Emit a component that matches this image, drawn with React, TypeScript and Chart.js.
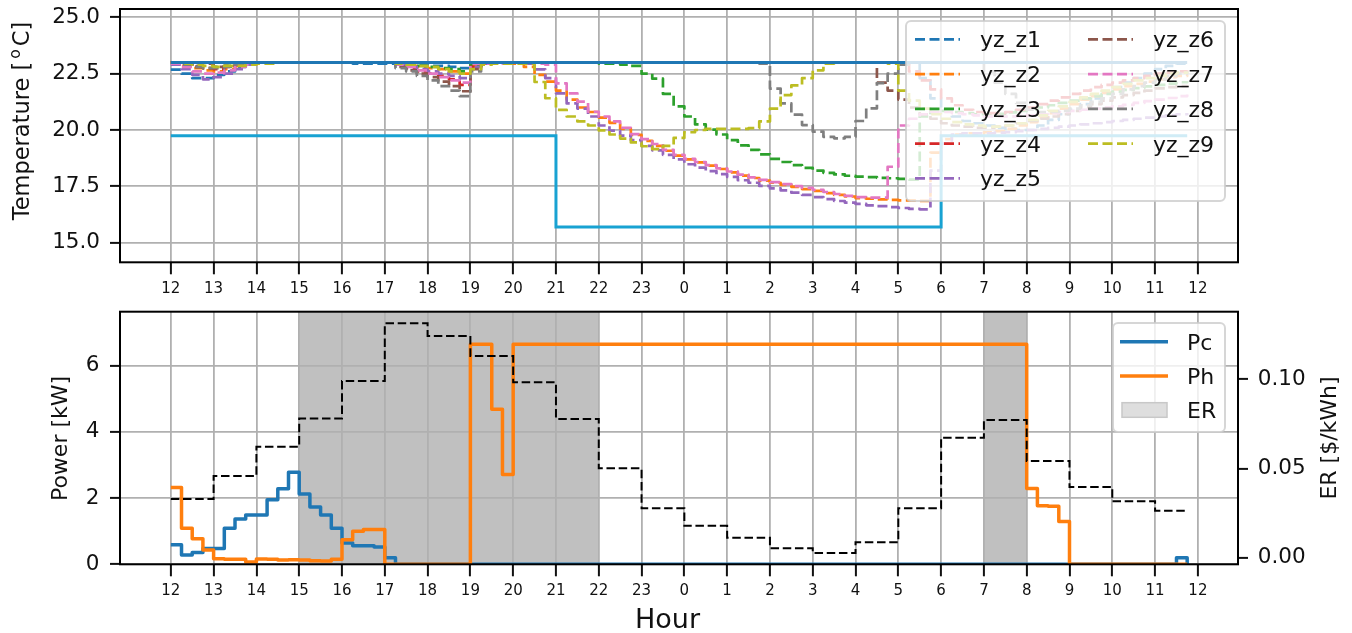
import React, { useEffect, useRef } from 'react';
import { Chart, registerables } from 'chart.js';

Chart.register(...registerables);

const FONT = "'DejaVu Sans', sans-serif";
const TEXT = '#111111';
const GRID = '#b0b0b0';
Chart.defaults.font.family = FONT;

// Time axis: hours after 12:00, one control step every 15 minutes
const STEP_HOURS = 0.25;
const X_MIN = -1.1875;
const X_MAX = 24.9375;
const HOUR_TICKS = [0, 1, 2, 3, 4, 5, 6, 7, 8, 9, 10, 11, 12, 13, 14, 15, 16, 17, 18, 19, 20, 21, 22, 23, 24];
const HOUR_LABELS = ['12', '13', '14', '15', '16', '17', '18', '19', '20', '21', '22', '23', '0', '1', '2', '3', '4', '5', '6', '7', '8', '9', '10', '11', '12'];

// Axis ranges and tick values
const TEMP_MIN = 14.13;
const TEMP_MAX = 25.37;
const TEMP_TICKS = [15, 17.5, 20, 22.5, 25];
const POWER_MIN = 0;
const POWER_MAX = 7.63;
const POWER_TICKS = [0, 2, 4, 6];
const RATE_MIN = -0.0037;
const RATE_MAX = 0.1379;
const RATE_TICKS = [0, 0.05, 0.1];

// Comfort band [°C], one value per hour (12:00 ... 11:00)
const UPPER_BOUND = [23, 23, 23, 23, 23, 23, 23, 23, 23, 23, 23, 23, 23, 23, 23, 23, 23, 23, 23, 23, 23, 23, 23, 23];
const LOWER_BOUND = [19.75, 19.75, 19.75, 19.75, 19.75, 19.75, 19.75, 19.75, 19.75, 15.7, 15.7, 15.7, 15.7, 15.7, 15.7, 15.7, 15.7, 15.7, 19.75, 19.75, 19.75, 19.75, 19.75, 19.75];

// Electricity rate [$/kWh], one value per hour
const ER_RATE = [0.0329, 0.0458, 0.0622, 0.0781, 0.099, 0.1314, 0.1243, 0.1131, 0.0983, 0.0778, 0.0501, 0.0277, 0.0179, 0.0112, 0.0053, 0.0026, 0.0086, 0.0277, 0.0673, 0.0772, 0.0542, 0.0396, 0.0316, 0.0263];

// Peak-rate windows, hours after 12:00
const ER_WINDOWS = [[3, 10], [19, 20]];

// Zone temperatures [°C], 15-minute steps from 12:00
const YZ_Z1 = [
  22.68, 22.5, 22.3, 22.3, 22.45, 22.6, 22.8, 22.95, 23, 23, 23, 23, 23, 23, 23, 23,
  23, 22.95, 22.95, 22.95, 22.95, 22.95, 22.9, 22.9, 22.85, 22.85, 22.8, 22.75, 22.85, 22.95, 23, 23,
  23, 23, 23, 23, 23, 23, 23, 23, 23, 23, 23, 23, 23, 23, 23, 23,
  23, 23, 23, 23, 23, 23, 23, 23, 23, 23, 23, 23, 23, 23, 23, 23,
  23, 23, 23, 23, 23, 23, 22.3, 21.4, 20.9, 20.6, 20.4, 20.3, 20.2, 20.1, 20.05, 20.0,
  20.0, 20.2, 20.45, 20.7, 20.9, 21.15, 21.4, 21.65, 21.9, 22.1, 22.3, 22.5, 22.7, 22.85, 22.95, 23,
];
const YZ_Z2 = [
  23, 22.85, 22.75, 22.65, 22.6, 22.7, 22.85, 22.95, 23, 23, 23, 23, 23, 23, 23, 23,
  23, 23, 23, 23, 23, 22.95, 22.85, 22.8, 22.75, 22.7, 22.6, 22.5, 22.85, 22.95, 23, 23,
  22.95, 22.8, 22.45, 22.15, 21.75, 21.35, 21.0, 20.8, 20.55, 20.32, 20.05, 19.78, 19.52, 19.3, 19.08, 18.86,
  18.7, 18.56, 18.42, 18.27, 18.12, 17.98, 17.87, 17.75, 17.66, 17.57, 17.48, 17.38, 17.3, 17.2, 17.12, 17.05,
  16.98, 16.95, 16.92, 16.9, 16.88, 16.88, 16.86, 19.0, 19.6, 19.8, 19.85, 19.85, 19.9, 19.95, 20.05, 20.2,
  20.35, 20.55, 20.75, 20.95, 21.15, 21.35, 21.5, 21.65, 21.8, 21.95, 22.05, 22.15, 22.25, 22.35, 22.4, 22.45,
];
const YZ_Z3 = [
  23, 22.9, 22.8, 22.75, 22.8, 22.85, 22.9, 22.95, 23, 23, 23, 23, 23, 23, 23, 23,
  23, 23, 23, 23, 23, 22.95, 22.9, 22.85, 22.8, 22.75, 22.7, 22.6, 22.9, 23, 23, 23,
  23, 23, 23, 23, 23, 23, 23, 23, 22.95, 22.95, 22.9, 22.85, 22.5, 22.28, 21.6, 21.05,
  20.6, 20.25, 20.02, 19.8, 19.55, 19.32, 19.12, 18.92, 18.72, 18.58, 18.44, 18.32, 18.2, 18.1, 18.03, 17.97,
  17.93, 17.91, 17.88, 17.86, 17.83, 17.8, 20.6, 20.8, 20.85, 20.8, 20.75, 20.7, 20.7, 20.72, 20.78, 20.85,
  20.9, 21.0, 21.1, 21.2, 21.3, 21.4, 21.5, 21.6, 21.7, 21.78, 21.86, 21.94, 22.0, 22.06, 22.12, 22.18,
];
const YZ_Z4 = [
  23, 22.9, 22.8, 22.75, 22.7, 22.8, 22.9, 23, 23, 23, 23, 23, 23, 23, 23, 23,
  23, 23, 23, 23, 23, 22.85, 22.75, 22.6, 22.5, 22.4, 22.25, 22.0, 22.8, 23, 23, 23,
  23, 23, 23, 23, 23, 23, 23, 23, 23, 23, 23, 23, 23, 23, 23, 23,
  23, 23, 23, 23, 23, 23, 23, 23, 23, 23, 23, 23, 23, 23, 23, 23,
  23, 23, 23, 23, 23, 22.6, 22.2, 21.8, 21.4, 21.1, 20.9, 20.8, 20.75, 20.75, 20.8, 20.9,
  21.0, 21.15, 21.3, 21.45, 21.6, 21.75, 21.9, 22.0, 22.1, 22.2, 22.3, 22.4, 22.5, 22.55, 22.6, 22.65,
];
const YZ_Z5 = [
  22.9, 22.7, 22.45, 22.25, 22.35, 22.5, 22.7, 22.9, 23, 23, 23, 23, 23, 23, 23, 23,
  23, 23, 23, 23, 23, 22.9, 22.8, 22.7, 22.6, 22.5, 22.4, 22.3, 22.8, 22.95, 23, 23,
  23, 22.95, 22.69, 22.3, 21.63, 21.18, 20.95, 20.6, 20.2, 19.97, 19.75, 19.55, 19.3, 19.1, 18.9, 18.7,
  18.48, 18.33, 18.18, 18.04, 17.92, 17.77, 17.66, 17.52, 17.41, 17.32, 17.22, 17.12, 17.02, 16.93, 16.85, 16.78,
  16.72, 16.66, 16.62, 16.58, 16.54, 16.5, 16.48, 18.2, 19.4, 19.8, 19.85, 19.85, 19.85, 19.88, 19.9, 19.95,
  20.0, 20.05, 20.1, 20.15, 20.2, 20.25, 20.3, 20.35, 20.4, 20.45, 20.5, 20.55, 20.6, 20.65, 20.7, 20.75,
];
const YZ_Z6 = [
  23, 22.9, 22.85, 22.95, 22.8, 22.85, 22.9, 23, 23, 23, 23, 23, 23, 23, 23, 23,
  23, 23, 23, 23, 23, 22.8, 22.65, 22.5, 22.35, 22.15, 21.95, 21.72, 22.7, 23, 23, 23,
  23, 23, 23, 23, 23, 23, 23, 23, 23, 23, 23, 23, 23, 23, 23, 23,
  23, 23, 23, 23, 23, 23, 23, 23, 23, 23, 23, 23, 23, 23, 23, 23,
  23, 23, 22.1, 21.75, 21.35, 21.0, 20.7, 20.5, 20.3, 20.2, 20.15, 20.1, 20.1, 20.15, 20.2, 20.3,
  20.4, 20.5, 20.6, 20.7, 20.85, 21.0, 21.15, 21.3, 21.45, 21.55, 21.65, 21.75, 21.85, 21.9, 21.95, 22.0,
];
const YZ_Z7 = [
  22.95, 22.8, 22.6, 22.5, 22.55, 22.65, 22.8, 22.9, 23, 23, 23, 23, 23, 23, 23, 23,
  23, 23, 23, 23, 23, 22.9, 22.8, 22.65, 22.5, 22.35, 22.2, 22.1, 22.95, 22.95, 23, 22.95,
  23, 23, 22.95, 22.9, 22.07, 21.63, 21.26, 20.81, 20.6, 20.38, 20.1, 19.82, 19.6, 19.38, 19.12, 18.9,
  18.72, 18.58, 18.44, 18.3, 18.16, 18.02, 17.9, 17.79, 17.69, 17.6, 17.51, 17.43, 17.34, 17.25, 17.16, 17.08,
  17.02, 17.0, 17.0, 18.37, 20.2, 20.5, 20.7, 20.8, 20.8, 20.75, 20.7, 20.65, 20.6, 20.6, 20.6, 20.62,
  20.65, 20.7, 20.75, 20.8, 20.85, 20.9, 20.95, 21.0, 21.05, 21.12, 21.2, 21.28, 21.35, 21.42, 21.5, 21.58,
];
const YZ_Z8 = [
  23, 22.9, 22.8, 22.75, 22.75, 22.8, 22.9, 23, 23, 23, 23, 23, 23, 23, 23, 23,
  23, 23, 23, 23, 23, 22.75, 22.6, 22.4, 22.2, 21.95, 21.75, 21.5, 22.6, 23, 23, 23,
  23, 23, 23, 23, 23, 23, 23, 23, 23, 23, 23, 23, 23, 23, 23, 23,
  23, 23, 23, 23, 23, 23, 23, 22.95, 21.84, 21.18, 20.68, 20.22, 19.93, 19.7, 19.63, 19.7,
  20.4, 20.96, 22.08, 22.5, 22.9, 23, 23, 23, 23, 23, 23, 23, 22.6, 22.1, 21.6, 21.2,
  20.9, 20.8, 20.8, 20.85, 20.95, 21.1, 21.25, 21.4, 21.6, 21.8, 21.95, 22.1, 22.25, 22.4, 22.5, 22.6,
];
const YZ_Z9 = [
  23, 22.95, 22.9, 22.85, 22.8, 22.85, 22.85, 22.9, 22.95, 22.95, 23, 23, 23, 23, 23, 23,
  23, 23, 23, 23, 23, 22.95, 22.9, 22.85, 22.8, 22.7, 22.6, 22.5, 22.7, 22.9, 22.95, 22.95,
  22.95, 22.95, 22.13, 21.41, 20.89, 20.6, 20.38, 20.2, 19.98, 19.8, 19.62, 19.45, 19.28, 19.15, 19.3, 19.65,
  19.9, 20.0, 20.05, 20.05, 20.05, 20.05, 20.08, 20.38, 20.95, 21.55, 21.98, 22.3, 22.65, 22.95, 23, 23,
  23, 23, 23, 22.95, 21.75, 21.3, 20.95, 20.7, 20.5, 20.35, 20.25, 20.2, 20.15, 20.15, 20.2, 20.3,
  20.45, 20.65, 20.85, 21.05, 21.25, 21.45, 21.6, 21.75, 21.9, 22.05, 22.2, 22.3, 22.4, 22.5, 22.55, 22.6,
];

const ZONE_NAMES = ['yz_z1', 'yz_z2', 'yz_z3', 'yz_z4', 'yz_z5', 'yz_z6', 'yz_z7', 'yz_z8', 'yz_z9'];
const ZONE_SERIES = [YZ_Z1, YZ_Z2, YZ_Z3, YZ_Z4, YZ_Z5, YZ_Z6, YZ_Z7, YZ_Z8, YZ_Z9];
const ZONE_COLORS = ['#1f77b4', '#ff7f0e', '#2ca02c', '#d62728', '#9467bd', '#8c564b', '#e377c2', '#7f7f7f', '#bcbd22'];

// Cooling and heating power [kW], 15-minute steps from 12:00
const PC = [
  0.59, 0.28, 0.36, 0.48, 0.48, 1.09, 1.37, 1.49, 1.49, 1.95, 2.28, 2.78, 2.12, 1.73, 1.49, 1.09,
  0.64, 0.56, 0.56, 0.52, 0.2, 0, 0, 0, 0, 0, 0, 0, 0, 0, 0, 0,
  0, 0, 0, 0, 0, 0, 0, 0, 0, 0, 0, 0, 0, 0, 0, 0,
  0, 0, 0, 0, 0, 0, 0, 0, 0, 0, 0, 0, 0, 0, 0, 0,
  0, 0, 0, 0, 0, 0, 0, 0, 0, 0, 0, 0, 0, 0, 0, 0,
  0, 0, 0, 0, 0, 0, 0, 0, 0, 0, 0, 0, 0, 0, 0.2, 0,
];
const PH = [
  2.32, 1.09, 0.77, 0.43, 0.17, 0.15, 0.15, 0.07, 0.16, 0.15, 0.13, 0.14, 0.13, 0.11, 0.1, 0.15,
  0.74, 1.0, 1.05, 1.05, 0, 0, 0, 0, 0, 0, 0, 0, 6.65, 6.65, 4.68, 2.71,
  6.65, 6.65, 6.65, 6.65, 6.65, 6.65, 6.65, 6.65, 6.65, 6.65, 6.65, 6.65, 6.65, 6.65, 6.65, 6.65,
  6.65, 6.65, 6.65, 6.65, 6.65, 6.65, 6.65, 6.65, 6.65, 6.65, 6.65, 6.65, 6.65, 6.65, 6.65, 6.65,
  6.65, 6.65, 6.65, 6.65, 6.65, 6.65, 6.65, 6.65, 6.65, 6.65, 6.65, 6.65, 6.65, 6.65, 6.65, 6.65,
  2.29, 1.77, 1.75, 1.29, 0, 0, 0, 0, 0, 0, 0, 0, 0, 0, 0, 0,
];

const expandHourly = (hourly: number[]) => hourly.flatMap((v) => [v, v, v, v]);
const toPoints = (vals: number[]) => vals.map((y, i) => ({ x: i * STEP_HOURS, y }));

const fixedTicks = (values: number[]) => (scale: any) => {
  scale.ticks = values.map((value) => ({ value }));
};
const fixedSize = (prop: 'width' | 'height', size: number) => (scale: any) => {
  scale[prop] = size;
  scale.paddingLeft = 0;
  scale.paddingRight = 0;
  scale.paddingTop = 0;
  scale.paddingBottom = 0;
};

const hourAxis = (height: number) => ({
  type: 'linear',
  bounds: 'data',
  min: X_MIN,
  max: X_MAX,
  afterBuildTicks: fixedTicks(HOUR_TICKS),
  afterFit: fixedSize('height', height),
  border: { display: false },
  grid: { color: GRID, lineWidth: 1.8, tickColor: TEXT, tickLength: 12, tickWidth: 2 },
  ticks: {
    autoSkip: false,
    maxRotation: 0,
    minRotation: 0,
    padding: 6,
    color: TEXT,
    font: { family: FONT, size: 15 },
    callback: (_v: number, i: number) => HOUR_LABELS[i],
  },
});

const valueAxis = (min: number, max: number, ticks: number[], width: number, fmt: (v: number) => string, position: string, onArea: boolean, padding: number) => ({
  type: 'linear',
  axis: 'y',
  position,
  bounds: 'data',
  min,
  max,
  afterBuildTicks: fixedTicks(ticks),
  afterFit: fixedSize('width', width),
  border: { display: false },
  grid: { color: GRID, lineWidth: 1.8, tickColor: TEXT, tickLength: 10, tickWidth: 2, drawOnChartArea: onArea },
  ticks: { padding, color: TEXT, font: { family: FONT, size: 21.5 }, callback: (v: number) => fmt(Number(v)) },
});

function drawFrame(chart: any) {
  const { ctx, chartArea: a } = chart;
  ctx.save();
  ctx.strokeStyle = '#000';
  ctx.lineWidth = 2;
  ctx.strokeRect(a.left, a.top, a.right - a.left, a.bottom - a.top);
  ctx.restore();
}

// Rotated axis title made of [text, fontSize, rise] pieces, centred at (cx, cy)
function drawVerticalTitle(ctx: CanvasRenderingContext2D, parts: [string, number, number][], cx: number, cy: number, gap = 0) {
  ctx.save();
  ctx.translate(cx, cy);
  ctx.rotate(-Math.PI / 2);
  ctx.fillStyle = TEXT;
  ctx.textBaseline = 'alphabetic';
  ctx.textAlign = 'left';
  const widths = parts.map(([t, s]) => {
    ctx.font = `${s}px ${FONT}`;
    return ctx.measureText(t).width;
  });
  const total = widths.reduce((a, b) => a + b, 0) + gap * (parts.length - 1);
  let x = -total / 2;
  parts.forEach(([t, s, rise], k) => {
    ctx.font = `${s}px ${FONT}`;
    ctx.fillText(t, x, 6 - rise);
    x += widths[k] + gap;
  });
  ctx.restore();
}

type LegendEntry = {
  label: string;
  color: string;
  kind: 'line' | 'patch';
  dash?: number[];
  width?: number;
  edge?: string;
  x: number;
  y: number;
  len: number;
  textX: number;
};

function drawLegend(ctx: CanvasRenderingContext2D, box: { x: number; y: number; w: number; h: number }, entries: LegendEntry[]) {
  ctx.save();
  const r = 5;
  ctx.beginPath();
  ctx.moveTo(box.x + r, box.y);
  ctx.arcTo(box.x + box.w, box.y, box.x + box.w, box.y + box.h, r);
  ctx.arcTo(box.x + box.w, box.y + box.h, box.x, box.y + box.h, r);
  ctx.arcTo(box.x, box.y + box.h, box.x, box.y, r);
  ctx.arcTo(box.x, box.y, box.x + box.w, box.y, r);
  ctx.closePath();
  ctx.fillStyle = 'rgba(255,255,255,0.8)';
  ctx.fill();
  ctx.strokeStyle = 'rgba(204,204,204,0.8)';
  ctx.lineWidth = 2;
  ctx.stroke();
  for (const e of entries) {
    if (e.kind === 'line') {
      ctx.beginPath();
      ctx.setLineDash(e.dash || []);
      ctx.lineWidth = e.width || 2;
      ctx.strokeStyle = e.color;
      ctx.moveTo(e.x, e.y);
      ctx.lineTo(e.x + e.len, e.y);
      ctx.stroke();
      ctx.setLineDash([]);
    } else {
      ctx.fillStyle = e.color;
      ctx.fillRect(e.x, e.y - 7.3, e.len, 14.6);
      ctx.strokeStyle = e.edge || e.color;
      ctx.lineWidth = 1.5;
      ctx.strokeRect(e.x, e.y - 7.3, e.len, 14.6);
    }
    ctx.fillStyle = TEXT;
    ctx.font = `22px ${FONT}`;
    ctx.textAlign = 'left';
    ctx.textBaseline = 'alphabetic';
    ctx.fillText(e.label, e.textX, e.y + 8);
  }
  ctx.restore();
}

const ZONE_DASH = [10, 4.5];
const ZONE_WIDTH = 2.7;

const temperaturePlugin = {
  id: 'temperatureDecor',
  afterDraw(chart: any) {
    const ctx = chart.ctx as CanvasRenderingContext2D;
    drawFrame(chart);
    drawVerticalTitle(ctx, [['Temperature [', 22.5, 0], ['o', 15.5, 9], ['C]', 22.5, 0]], 23, 121, 3);
    const entries: LegendEntry[] = ZONE_NAMES.map((name, k) => {
      const col = k < 5 ? 0 : 1;
      const row = k < 5 ? k : k - 5;
      const x = col === 0 ? 915 : 1088;
      return {
        label: name,
        color: ZONE_COLORS[k],
        kind: 'line',
        dash: ZONE_DASH,
        width: ZONE_WIDTH,
        x,
        y: 39.3 + row * 34.75,
        len: 45,
        textX: x + 65,
      };
    });
    drawLegend(ctx, { x: 906, y: 21, w: 319, h: 180 }, entries);
  },
};

const powerPlugin = {
  id: 'powerDecor',
  beforeDraw(chart: any) {
    const { ctx, chartArea: a, scales } = chart;
    ctx.save();
    ctx.fillStyle = '#c0c0c0';
    for (const [s, e] of ER_WINDOWS) {
      const x0 = scales.x.getPixelForValue(s);
      const x1 = scales.x.getPixelForValue(e);
      ctx.fillRect(x0, a.top, x1 - x0, a.bottom - a.top);
    }
    ctx.restore();
  },
  afterDraw(chart: any) {
    const ctx = chart.ctx as CanvasRenderingContext2D;
    drawFrame(chart);
    drawVerticalTitle(ctx, [['Power [kW]', 22, 0]], 61, 138.5);
    drawVerticalTitle(ctx, [['ER [$/kWh]', 22, 0]], 1330, 138);
    ctx.save();
    ctx.fillStyle = TEXT;
    ctx.font = `27px ${FONT}`;
    ctx.textAlign = 'center';
    ctx.textBaseline = 'alphabetic';
    ctx.fillText('Hour', 667.5, 328);
    ctx.restore();
    drawLegend(ctx, { x: 1113, y: 23, w: 112, h: 109 }, [
      { label: 'Pc', color: '#1f77b4', kind: 'line', width: 3.5, x: 1120, y: 41.7, len: 48, textX: 1187 },
      { label: 'Ph', color: '#ff7f0e', kind: 'line', width: 3.5, x: 1120, y: 76, len: 48, textX: 1187 },
      { label: 'ER', color: '#dedede', edge: '#c8c8c8', kind: 'patch', x: 1122, y: 110, len: 45, textX: 1187 },
    ]);
  },
};

function temperatureConfig(): any {
  const zones = ZONE_SERIES.map((vals, k) => ({
    label: ZONE_NAMES[k],
    data: toPoints(vals),
    borderColor: ZONE_COLORS[k],
    borderWidth: ZONE_WIDTH,
    borderDash: ZONE_DASH,
    borderJoinStyle: 'round',
    stepped: true,
    pointRadius: 0,
    fill: false,
    order: 10 - k,
  }));
  return {
    type: 'line',
    data: {
      datasets: [
        ...zones,
        { label: 'upper', data: toPoints(expandHourly(UPPER_BOUND)), borderColor: '#1f77b4', borderWidth: 3, stepped: true, pointRadius: 0, fill: false, order: 0 },
        { label: 'lower', data: toPoints(expandHourly(LOWER_BOUND)), borderColor: '#18a2d2', borderWidth: 3, stepped: true, pointRadius: 0, fill: false, order: 0 },
      ],
    },
    options: {
      responsive: false,
      animation: false,
      devicePixelRatio: 1,
      events: [],
      layout: { padding: { top: 9, right: 114, bottom: 0, left: 0 } },
      plugins: { legend: { display: false }, tooltip: { enabled: false } },
      scales: {
        x: hourAxis(37.7),
        y: valueAxis(TEMP_MIN, TEMP_MAX, TEMP_TICKS, 120, (v) => v.toFixed(1), 'left', true, 10),
      },
    },
    plugins: [temperaturePlugin],
  };
}

function powerConfig(): any {
  return {
    type: 'line',
    data: {
      datasets: [
        { label: 'ER', yAxisID: 'y1', data: toPoints(expandHourly(ER_RATE)), borderColor: '#000', borderWidth: 2, borderDash: [8.5, 3.7], stepped: true, pointRadius: 0, fill: false, order: 0 },
        { label: 'Ph', yAxisID: 'y', data: toPoints(PH), borderColor: '#ff7f0e', borderWidth: 3.5, borderJoinStyle: 'round', stepped: true, pointRadius: 0, fill: false, order: 1 },
        { label: 'Pc', yAxisID: 'y', data: toPoints(PC), borderColor: '#1f77b4', borderWidth: 3.5, borderJoinStyle: 'round', stepped: true, pointRadius: 0, fill: false, order: 2 },
      ],
    },
    options: {
      responsive: false,
      animation: false,
      devicePixelRatio: 1,
      events: [],
      layout: { padding: { top: 11.7, right: 0, bottom: 0, left: 0 } },
      plugins: { legend: { display: false }, tooltip: { enabled: false } },
      scales: {
        x: hourAxis(68.7),
        y: valueAxis(POWER_MIN, POWER_MAX, POWER_TICKS, 120, (v) => String(v), 'left', true, 10.5),
        y1: valueAxis(RATE_MIN, RATE_MAX, RATE_TICKS, 114, (v) => v.toFixed(2), 'right', false, 9.7),
      },
    },
    plugins: [powerPlugin],
  };
}

export default function App() {
  const topRef = useRef<HTMLCanvasElement>(null);
  const bottomRef = useRef<HTMLCanvasElement>(null);

  useEffect(() => {
    const top = new Chart(topRef.current as HTMLCanvasElement, temperatureConfig());
    const bottom = new Chart(bottomRef.current as HTMLCanvasElement, powerConfig());
    return () => {
      top.destroy();
      bottom.destroy();
    };
  }, []);

  return (
    <div style={{ position: 'fixed', left: 0, top: 0, width: 1352, height: 633, background: '#ffffff' }}>
      <canvas ref={topRef} width={1352} height={300} style={{ position: 'absolute', left: 0, top: 0, width: 1352, height: 300 }} />
      <canvas ref={bottomRef} width={1352} height={333} style={{ position: 'absolute', left: 0, top: 300, width: 1352, height: 333 }} />
    </div>
  );
}
